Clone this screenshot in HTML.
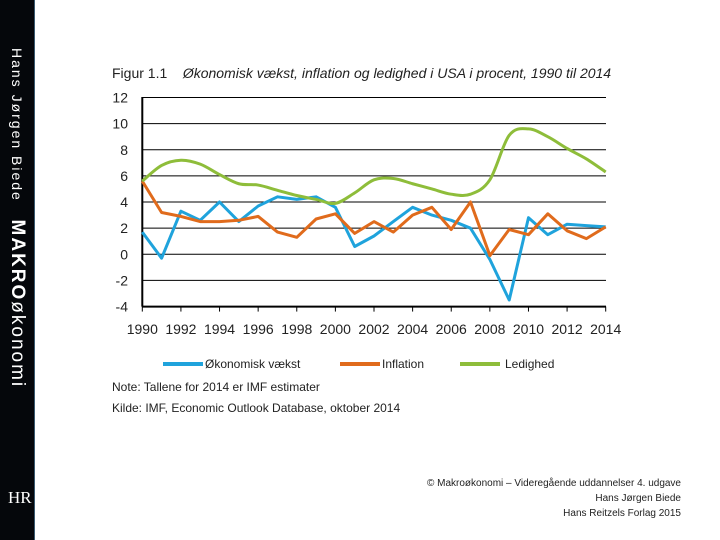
<!DOCTYPE html>
<html><head><meta charset="utf-8"><style>
body{margin:0;width:720px;height:540px;background:#fff;overflow:hidden;position:relative;font-family:"Liberation Sans",sans-serif}
.side{position:absolute;left:0;top:0;width:34px;height:540px;background:#05070b;border-right:1px solid #3a5a70}
.t{position:absolute;white-space:nowrap;color:#222}
</style></head><body>
<div class="side">
 <div class="t" style="color:#fff;left:17px;top:48px;transform-origin:0 0;transform:rotate(90deg) translateY(-50%);font-size:14px;letter-spacing:2px">Hans Jørgen Biede&nbsp;&nbsp; <b style="font-size:19px">MAKRO</b><span style="font-size:19px">økonomi</span></div>
 <div class="t" style="color:#fff;left:8px;top:488px;font-family:'Liberation Serif',serif;font-size:17px">HR</div>
</div>
<div class="t" style="left:112px;top:65px;font-size:14px">Figur 1.1 &nbsp;&nbsp;&nbsp;<i>Økonomisk vækst, inflation og ledighed i USA i procent, 1990 til 2014</i></div>
<svg id="c" width="720" height="540" style="position:absolute;left:0;top:0"></svg>
<div class="t" style="left:112px;top:380px;font-size:12px">Note: Tallene for 2014 er IMF estimater</div>
<div class="t" style="left:112px;top:401px;font-size:12px">Kilde: IMF, Economic Outlook Database, oktober 2014</div>
<div class="t" style="right:39px;top:476px;font-size:10px;text-align:right;line-height:15px">© Makroøkonomi – Videregående uddannelser 4. udgave<br>Hans Jørgen Biede<br>Hans Reitzels Forlag 2015</div>
<script>
const years=[1990,1991,1992,1993,1994,1995,1996,1997,1998,1999,2000,2001,2002,2003,2004,2005,2006,2007,2008,2009,2010,2011,2012,2013,2014];
const growth=[1.7,-0.3,3.3,2.6,4.0,2.5,3.7,4.4,4.2,4.4,3.6,0.6,1.4,2.5,3.6,3.0,2.6,2.0,-0.4,-3.5,2.8,1.5,2.3,2.2,2.1];
const inflation=[5.6,3.2,2.9,2.5,2.5,2.6,2.9,1.7,1.3,2.7,3.1,1.6,2.5,1.7,3.0,3.6,1.9,4.0,-0.1,1.9,1.5,3.1,1.8,1.2,2.1];
const unemployment=[5.6,6.8,7.2,6.9,6.1,5.4,5.3,4.9,4.5,4.2,3.9,4.7,5.7,5.8,5.4,5.0,4.6,4.6,5.7,9.1,9.6,9.0,8.1,7.3,6.3];
const yTicks=[12,10,8,6,4,2,0,-2,-4];
const xTicks=[1990,1992,1994,1996,1998,2000,2002,2004,2006,2008,2010,2012,2014];
const svg=document.getElementById('c');const NS='http://www.w3.org/2000/svg';
const X=v=>142.3+(v-1990)*(605.7-142.3)/24, Y=v=>254.3-v*(254.3-97.5)/12;
function mk(t,a){const e=document.createElementNS(NS,t);for(const k in a)e.setAttribute(k,a[k]);svg.appendChild(e);return e;}
yTicks.forEach(v=>{
 const g=mk('line',{x1:142,x2:606,y1:Y(v),y2:Y(v),stroke:'#000','stroke-width':v==-4?2:1});
 
 
 const t=mk('text',{x:128,y:Y(v)+5,'text-anchor':'end','font-size':14,fill:'#222'});t.textContent=v;
 
 
});
const ax=mk('line',{x1:142.3,x2:142.3,y1:97,y2:Y(-4),stroke:'#000','stroke-width':2});


xTicks.forEach(v=>{
 const k=mk('line',{x1:X(v),x2:X(v),y1:Y(-4),y2:Y(-4)+5,stroke:'#000'});
 
 
 const t=mk('text',{x:X(v),y:334,'text-anchor':'middle','font-size':14,fill:'#222'});t.textContent=v;
 
 
});
function poly(vals){return vals.map((v,i)=>(i?'L':'M')+X(years[i]).toFixed(1)+' '+Y(v).toFixed(1)).join(' ');}
function smooth(vals){const p=vals.map((v,i)=>[X(years[i]),Y(v)]);let d='M'+p[0][0]+' '+p[0][1];
 for(let i=0;i<p.length-1;i++){const a=p[i-1]||p[i],b=p[i],c=p[i+1],e=p[i+2]||c;
 d+=` C${b[0]+(c[0]-a[0])/6} ${b[1]+(c[1]-a[1])/6} ${c[0]-(e[0]-b[0])/6} ${c[1]-(e[1]-b[1])/6} ${c[0]} ${c[1]}`;}return d;}
const l1=mk('path',{d:poly(growth),fill:'none',stroke:'#1fa3dc','stroke-width':3,'stroke-linejoin':'round'});


const l2=mk('path',{d:poly(inflation),fill:'none',stroke:'#e06b1c','stroke-width':3,'stroke-linejoin':'round'});


const l3=mk('path',{d:smooth(unemployment),fill:'none',stroke:'#8ebd3a','stroke-width':3});


[['Økonomisk vækst','#1fa3dc',163,205],['Inflation','#e06b1c',340,382],['Ledighed','#8ebd3a',460,505]].forEach(([n,c,x0,tx])=>{
 const l=mk('line',{x1:x0,x2:x0+40,y1:364,y2:364,stroke:c,'stroke-width':4});
 
 
 const t=mk('text',{x:tx,y:368,'font-size':12,fill:'#222'});t.textContent=n;
 
 
});
</script>
</body></html>
